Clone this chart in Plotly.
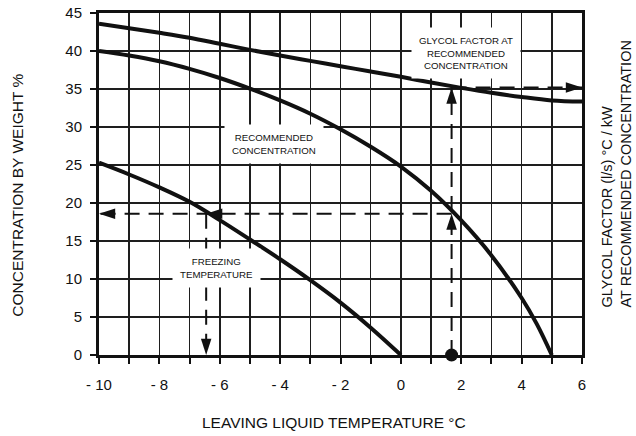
import plotly.graph_objects as go

# ---- data ----
temp_top = [-10, -9, -8, -7, -6, -5, -4, -3, -2, -1, 0, 1, 2, 3, 4, 5, 6]
glycol_factor = [43.6, 43.0, 42.4, 41.75, 40.95, 40.15, 39.4, 38.7, 38.0, 37.3, 36.6, 35.85, 35.15, 34.5, 33.95, 33.5, 33.35]

temp_rec = [-10, -9, -8, -7, -6, -5, -4, -3, -2, -1, 0, 1, 2, 3, 4, 4.5, 5]
recommended = [40.0, 39.4, 38.65, 37.65, 36.45, 35.05, 33.5, 31.75, 29.7, 27.4, 24.8, 21.6, 17.7, 13.1, 7.5, 4.1, 0.0]

temp_frz = [-10, -9, -8, -7, -6, -5, -4, -3, -2, -1, 0]
freezing = [25.3, 23.75, 22.05, 20.15, 17.75, 15.2, 12.6, 9.85, 6.9, 3.6, 0.0]

# example reading path
leaving_temp = 1.68
freeze_temp = -6.45
conc_read = 18.6
factor_read = 35.2

x_ticks = list(range(-10, 7))
x_ticktext = ["- 10", "", "- 8", "", "- 6", "", "- 4", "", "- 2", "", "0", "", "2", "", "4", "", "6"]
y_ticks = list(range(0, 46, 5))

FONT = "Liberation Sans, Arial, sans-serif"
BLACK = "#111111"

fig = go.Figure()

# dashed guide lines
dash = dict(color=BLACK, width=2, dash="15px,9px")
fig.add_trace(go.Scatter(x=[leaving_temp, leaving_temp], y=[0, factor_read], mode="lines", line=dash, hoverinfo="skip"))
fig.add_trace(go.Scatter(x=[leaving_temp, -10], y=[conc_read, conc_read], mode="lines", line=dash, hoverinfo="skip"))
fig.add_trace(go.Scatter(x=[freeze_temp, freeze_temp], y=[conc_read, 0], mode="lines", line=dash, hoverinfo="skip"))
fig.add_trace(go.Scatter(x=[leaving_temp, 6], y=[factor_read, factor_read], mode="lines", line=dash, hoverinfo="skip"))

# curves
for xs, ys in [(temp_top, glycol_factor), (temp_rec, recommended), (temp_frz, freezing)]:
    fig.add_trace(go.Scatter(x=xs, y=ys, mode="lines",
                             line=dict(color=BLACK, width=4, shape="spline", smoothing=1.0),
                             hoverinfo="skip"))

# arrowheads (tips at the guide end points)
fig.add_trace(go.Scatter(
    x=[-10, freeze_temp, freeze_temp, leaving_temp, leaving_temp, 6],
    y=[conc_read, conc_read, 0, conc_read, factor_read, factor_read],
    mode="markers",
    marker=dict(symbol="arrow", size=17, color=BLACK,
                angle=[270, 270, 180, 0, 0, 90], line=dict(width=0)),
    hoverinfo="skip", cliponaxis=False))

# start point dot
fig.add_trace(go.Scatter(x=[leaving_temp], y=[0], mode="markers",
                         marker=dict(size=13, color=BLACK), hoverinfo="skip", cliponaxis=False))

ann_font = dict(family=FONT, size=9.7, color=BLACK)
annotations = [
    dict(x=2.15, y=39.8, text="GLYCOL FACTOR AT<br>RECOMMENDED<br>CONCENTRATION"),
    dict(x=-4.2, y=27.8, text="RECOMMENDED<br>CONCENTRATION"),
    dict(x=-6.12, y=11.5, text="FREEZING<br>TEMPERATURE"),
]
for a in annotations:
    fig.add_annotation(**a, xref="x", yref="y", showarrow=False, font=ann_font,
                       bgcolor="white", borderpad=7, align="center")

title_font = dict(family=FONT, size=15.5, color=BLACK)
fig.add_annotation(text="CONCENTRATION BY WEIGHT %", xref="paper", yref="paper",
                   x=(17 - 98.5) / 484, y=(355.5 - 195) / 343, textangle=-90,
                   showarrow=False, font=title_font, xanchor="center", yanchor="middle")
fig.add_annotation(text="LEAVING LIQUID TEMPERATURE °C", xref="paper", yref="paper",
                   x=(334 - 98.5) / 484, y=(355.5 - 423) / 343,
                   showarrow=False, font=title_font, xanchor="center", yanchor="middle")
fig.add_annotation(text="GLYCOL FACTOR (l/s) °C / kW<br>AT RECOMMENDED CONCENTRATION",
                   xref="paper", yref="paper", x=(617 - 98.5) / 484, y=(355.5 - 310) / 343,
                   textangle=-90, showarrow=False, font=dict(family=FONT, size=14.5, color=BLACK),
                   xanchor="center", yanchor="bottom", align="left")

axis_common = dict(showline=True, linecolor=BLACK, linewidth=3, mirror=True,
                   showgrid=True, gridcolor="#1e1e1e", gridwidth=1.6,
                   ticks="outside", ticklen=6, tickwidth=2, tickcolor=BLACK,
                   tickfont=dict(family=FONT, size=15, color=BLACK), zeroline=False,
                   automargin=False)

fig.update_xaxes(range=[-10, 6], tickvals=x_ticks, ticktext=x_ticktext,
                 ticklabelstandoff=8, **axis_common)
fig.update_yaxes(range=[0, 45], tickvals=y_ticks, ticklabelstandoff=5, **axis_common)

fig.update_layout(
    width=636, height=436,
    margin=dict(l=98.5, r=53.5, t=12.5, b=80.5, autoexpand=False),
    paper_bgcolor="white", plot_bgcolor="white",
    showlegend=False,
    hovermode=False,
    font=dict(family=FONT, color=BLACK),
)

fig.write_html("out.html",
               config={"displayModeBar": False, "staticPlot": True},
               post_script="document.body.style.margin='0';document.body.style.padding='0';")
